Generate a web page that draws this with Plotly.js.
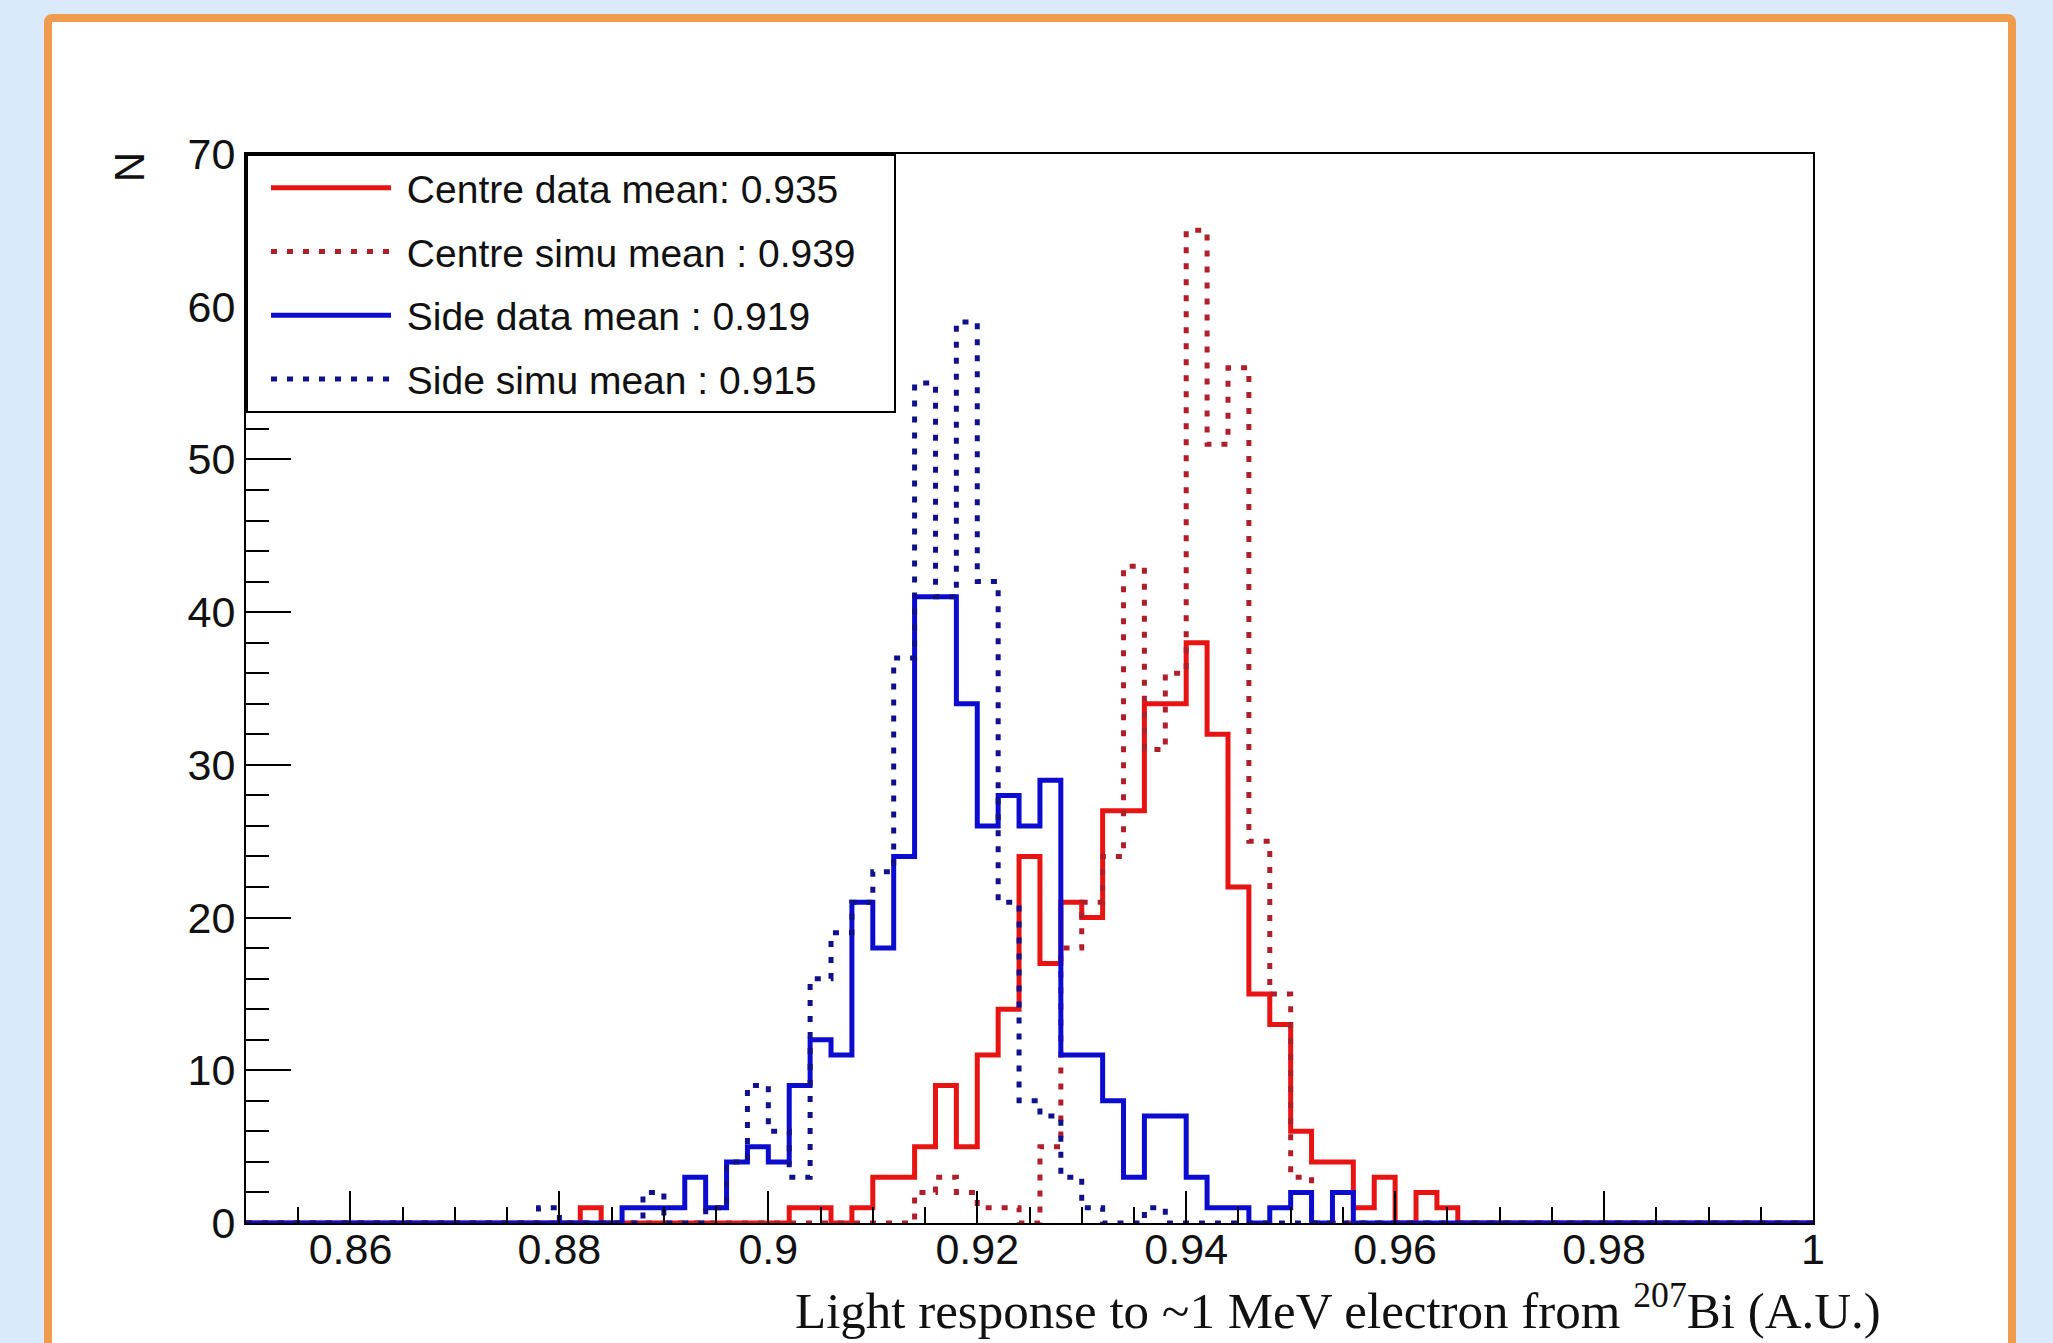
<!DOCTYPE html>
<html><head><meta charset="utf-8">
<script src="https://cdn.plot.ly/plotly-3.0.1.min.js"></script>
<style>
html,body{margin:0;padding:0;width:2053px;height:1343px;overflow:hidden;background:#dbeafb;}
#frame{position:absolute;left:44px;top:14px;width:1972px;height:1420px;box-sizing:border-box;border:8px solid #f09c4f;border-radius:8px;background:#ffffff;}
#chart{position:absolute;left:0;top:0;width:2053px;height:1343px;}
</style></head><body>
<div id="frame"></div><div id="chart"></div>
<script>
// Histogram binning: 75 bins of width 0.002 from 0.85 to 1.00
const binLow = 0.85;
const binWidth = 0.002;

// Counts per bin (bin k covers [0.85 + 0.002k, 0.85 + 0.002(k+1)])
const centreData = [
  0,0,0,0,0,0,0,0,0,0,
  0,0,0,0,0,0,1,0,0,0,
  0,0,0,0,0,0,1,1,0,1,
  3,3,5,9,5,11,14,24,17,21,
  20,27,27,34,34,38,32,22,15,13,
  6,4,4,1,3,0,2,1,0,0,
  0,0,0,0,0,0,0,0,0,0,
  0,0,0,0,0
];
const centreSimu = [
  0,0,0,0,0,0,0,0,0,0,
  0,0,0,0,0,0,0,0,0,0,
  0,0,0,0,0,0,0,0,0,0,
  0,0,2,3,2,1,1,0,5,18,
  21,24,43,31,36,65,51,56,25,15,
  3,0,0,0,0,0,0,0,0,0,
  0,0,0,0,0,0,0,0,0,0,
  0,0,0,0,0
];
const sideData = [
  0,0,0,0,0,0,0,0,0,0,
  0,0,0,0,0,0,0,0,1,1,
  1,3,1,4,5,4,9,12,11,21,
  18,24,41,41,34,26,28,26,29,11,
  11,8,3,7,7,3,1,1,0,1,
  2,0,2,0,0,0,0,0,0,0,
  0,0,0,0,0,0,0,0,0,0,
  0,0,0,0,0
];
const sideSimu = [
  0,0,0,0,0,0,0,0,0,0,
  0,0,0,0,1,0,0,0,0,2,
  0,0,1,4,9,6,3,16,19,21,
  23,37,55,41,59,42,21,8,7,3,
  1,0,0,1,0,0,0,0,0,0,
  0,0,0,0,0,0,0,0,0,0,
  0,0,0,0,0,0,0,0,0,0,
  0,0,0,0,0
];

const seriesNames = [
  'Centre data mean: 0.935',
  'Centre simu mean : 0.939',
  'Side data mean : 0.919',
  'Side simu mean : 0.915'
];

const xTickVals = [0.86, 0.88, 0.9, 0.92, 0.94, 0.96, 0.98, 1.0];
const xTickText = ['0.86', '0.88', '0.9', '0.92', '0.94', '0.96', '0.98', '1'];
const yTickVals = [0, 10, 20, 30, 40, 50, 60, 70];
const yTickText = ['0', '10', '20', '30', '40', '50', '60', '70'];

const xTitle = 'Light response to ~1 MeV electron from <sup>207</sup>Bi (A.U.)';
const yTitle = 'N';

function stepX(counts) {
  const xs = [];
  for (let i = 0; i <= counts.length; i++) xs.push(+(binLow + i * binWidth).toFixed(4));
  return xs;
}
function stepY(counts) {
  return counts.concat([counts[counts.length - 1]]);
}

const NB = '\u00A0';
const styles = [
  {color: '#e81414', width: 5, dash: 'solid'},
  {color: '#b01e2a', width: 5, dash: '6px,10px'},
  {color: '#0c0cd0', width: 5, dash: 'solid'},
  {color: '#10108c', width: 5, dash: '6px,10px'}
];
const allSeries = [centreData, centreSimu, sideData, sideSimu];

const traces = allSeries.map((counts, i) => ({
  type: 'scatter',
  mode: 'lines',
  x: stepX(counts),
  y: stepY(counts),
  name: NB + seriesNames[i] + NB + NB + NB,
  legendgroup: 'g' + i,
  line: {shape: 'hv', color: styles[i].color, width: styles[i].width, dash: styles[i].dash},
  cliponaxis: false,
  hoverinfo: 'x+y+name'
}));

const axisFont = {family: 'Liberation Sans, Arial, sans-serif', size: 43, color: '#111111'};

const layout = {
  width: 2053,
  height: 1343,
  margin: {l: 246, r: 240, t: 154, b: 120, pad: 0},
  paper_bgcolor: 'rgba(0,0,0,0)',
  plot_bgcolor: '#ffffff',
  showlegend: true,
  xaxis: {
    range: [0.85, 1.0],
    autorange: false,
    showgrid: false,
    zeroline: false,
    showline: true,
    mirror: true,
    linecolor: '#000000',
    linewidth: 2,
    ticks: 'inside',
    ticklen: 32,
    tickwidth: 2,
    tickcolor: '#000000',
    tickmode: 'array',
    tickvals: xTickVals,
    ticktext: xTickText,
    tickfont: axisFont,
    ticklabelstandoff: -13,
    minor: {tickmode: 'linear', tick0: 0.85, dtick: 0.005, ticks: 'inside', ticklen: 16, tickwidth: 2, tickcolor: '#000000', showgrid: false}
  },
  yaxis: {
    range: [0, 70],
    autorange: false,
    showgrid: false,
    zeroline: false,
    showline: true,
    mirror: true,
    linecolor: '#000000',
    linewidth: 2,
    ticks: 'inside',
    ticklen: 45,
    tickwidth: 2,
    tickcolor: '#000000',
    tickmode: 'array',
    tickvals: yTickVals,
    ticktext: yTickText,
    tickfont: axisFont,
    minor: {tickmode: 'linear', tick0: 0, dtick: 2, ticks: 'inside', ticklen: 23, tickwidth: 2, tickcolor: '#000000', showgrid: false}
  },
  legend: {
    x: 0, y: 1, xanchor: 'left', yanchor: 'top',
    bgcolor: '#ffffff',
    bordercolor: '#000000',
    borderwidth: 2,
    font: {family: 'Liberation Sans, Arial, sans-serif', size: 39, color: '#111111'},
    indentation: 18,
    itemwidth: 120,
    tracegroupgap: 10,
    traceorder: 'grouped'
  },
  annotations: [
    {
      text: yTitle, xref: 'paper', yref: 'paper', x: -0.0741, y: 0.9874,
      xanchor: 'center', yanchor: 'middle', textangle: -90, showarrow: false,
      font: {family: 'Liberation Sans, Arial, sans-serif', size: 42, color: '#111111'}
    },
    {
      text: xTitle, xref: 'paper', yref: 'paper', x: 1.0444, y: -0.0786,
      xanchor: 'right', yanchor: 'middle', showarrow: false,
      font: {family: 'Liberation Serif, serif', size: 51, color: '#111111'}
    }
  ]
};

Plotly.newPlot('chart', traces, layout, {displayModeBar: false, staticPlot: true});
</script>
</body></html>
